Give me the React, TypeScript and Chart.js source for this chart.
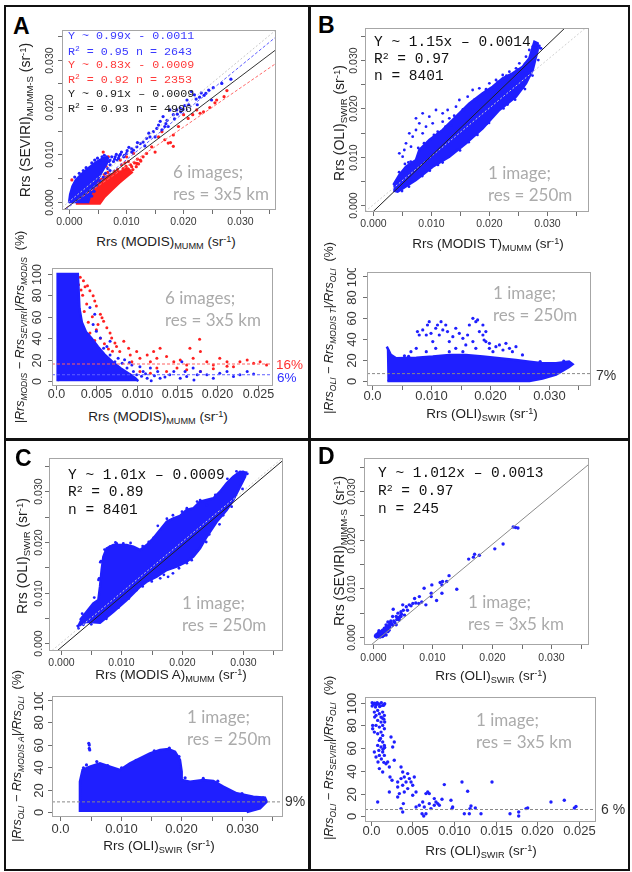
import React, { useEffect, useRef } from 'react';
import { Chart, registerables } from 'chart.js';

Chart.register(...registerables);

type Pair = [number, number];

const SANS = '"Liberation Sans", Arial, sans-serif';
const MONO = '"Liberation Mono", "DejaVu Sans Mono", monospace';
const SOFT = 'Lato, "Open Sans", sans-serif';
const BLUE = '#1f1fff';
const RED = '#ff2020';

// ---------- tick values and labels ----------
const rrsTicks = [0, 0.005, 0.01, 0.015, 0.02, 0.025, 0.03, 0.035];
const rrsLabels = ['0.000', '', '0.010', '', '0.020', '', '0.030', ''];
const oliTickLabels = ['0.0', '', '0.010', '', '0.020', '', '0.030', ''];
const fineTicks = [0, 0.005, 0.01, 0.015, 0.02, 0.025];
const fineLabels = ['0.0', '0.005', '0.010', '0.015', '0.020', '0.025'];
const pctTicks = [0, 20, 40, 60, 80, 100];
const pctLabels = ['0', '20', '40', '60', '80', '100'];

// ---------- panel A: SEVIRI vs MODIS (6 images) ----------
const aFitBlue: Pair = [0.99, -0.0011];
const aFitRed: Pair = [0.83, -0.0009];
const aFitAll: Pair = [0.91, -0.0009];
const aR2 = [0.95, 0.92, 0.93];
const aN = [2643, 2353, 4996];
const aErrMeans = [16, 6]; // red, blue

const aBlueCore: Pair[] = [
  [0.0, -0.0003], [0.0002, 0.0015], [0.0006, 0.0032], [0.0012, 0.0046], [0.0022, 0.0058], [0.0035, 0.0072],
  [0.0048, 0.0084], [0.006, 0.0092], [0.0068, 0.0092], [0.0066, 0.008], [0.0058, 0.0064], [0.005, 0.0046],
  [0.0043, 0.003], [0.0037, 0.0014], [0.0033, -0.0003],
];
const aRedCore: Pair[] = [
  [0.0012, -0.0004], [0.0054, -0.0004], [0.0062, 0.001], [0.0075, 0.0025], [0.0088, 0.004], [0.01, 0.0052],
  [0.011, 0.0062], [0.0104, 0.007], [0.009, 0.0064], [0.0075, 0.0058], [0.006, 0.005], [0.0045, 0.004],
  [0.003, 0.003], [0.0018, 0.002],
];
const aBluePts: Pair[] = [
  [0.0215, 0.0233], [0.022, 0.0226], [0.0223, 0.0217], [0.0229, 0.0221], [0.0237, 0.0225], [0.024, 0.0229],
  [0.0245, 0.0236], [0.0253, 0.0241], [0.0268, 0.025], [0.0284, 0.0259], [0.0207, 0.0215], [0.0203, 0.0203],
  [0.0195, 0.0198], [0.0189, 0.0194], [0.0183, 0.0184], [0.0177, 0.0194], [0.0174, 0.0159], [0.0168, 0.0159],
  [0.0163, 0.0152], [0.0157, 0.0162], [0.0154, 0.0155], [0.0151, 0.0137], [0.0142, 0.0137], [0.0136, 0.0134],
  [0.013, 0.0126], [0.0125, 0.0123], [0.0119, 0.0116], [0.0113, 0.0109], [0.011, 0.0105], [0.0101, 0.0102],
  [0.0096, 0.0095], [0.0087, 0.0092], [0.0081, 0.0095], [0.0072, 0.0088], [0.0066, 0.0095], [0.006, 0.0088],
  [0.0055, 0.0081], [0.016, 0.017], [0.0165, 0.018], [0.017, 0.0165], [0.0185, 0.0175], [0.019, 0.0185],
  [0.0196, 0.019], [0.02, 0.0195], [0.021, 0.0205], [0.0225, 0.0205], [0.0232, 0.023], [0.025, 0.0215],
  [0.0172, 0.0172], [0.0148, 0.0148], [0.014, 0.0145], [0.0133, 0.0118], [0.012, 0.0125], [0.0105, 0.0115],
  [0.009, 0.01], [0.0078, 0.0085], [0.011, 0.0112], [0.007, 0.0085], [0.0075, 0.0095], [0.008, 0.009],
  [0.0083, 0.01], [0.0088, 0.0097], [0.0092, 0.0105], [0.0072, 0.0078], [0.0085, 0.0088], [0.0062, 0.0098],
  [0.0058, 0.0095], [0.005, 0.0092], [0.0045, 0.0088], [0.004, 0.0082], [0.003, 0.0072], [0.0025, 0.0066],
  [0.0018, 0.006], [0.001, 0.0052], [0.0068, 0.007], [0.0072, 0.0066], [0.0064, 0.006], [0.006, 0.0052],
  [0.0054, 0.0044], [0.0048, 0.0034], [0.0044, 0.0022], [0.004, 0.0012], [0.0097, 0.0098], [0.0102, 0.0108],
];
const aRedPts: Pair[] = [
  [0.0277, 0.0235], [0.0272, 0.0222], [0.0259, 0.0215], [0.0256, 0.0209], [0.0247, 0.0199], [0.0236, 0.019],
  [0.023, 0.0187], [0.0224, 0.0194], [0.0217, 0.0184], [0.0209, 0.0176], [0.0201, 0.0184], [0.0192, 0.0159],
  [0.0183, 0.0141], [0.0178, 0.0125], [0.0183, 0.0117], [0.0174, 0.0124], [0.0168, 0.0131], [0.0163, 0.0148],
  [0.0157, 0.0137], [0.0151, 0.0105], [0.0145, 0.0116], [0.0136, 0.0102], [0.013, 0.0095], [0.0125, 0.0088],
  [0.0119, 0.0081], [0.011, 0.0074], [0.0101, 0.007], [0.0095, 0.0063], [0.0087, 0.006], [0.0081, 0.0042],
  [0.0075, 0.0056], [0.0069, 0.0095], [0.0066, 0.0091], [0.006, 0.0105], [0.0014, 0.0042], [0.0005, 0.0046],
  [0.0017, 0.0039], [0.0101, 0.0095], [0.009, 0.0088], [0.0113, 0.0102], [0.0112, 0.0068], [0.0118, 0.0074],
  [0.0122, 0.008], [0.0115, 0.0082], [0.0108, 0.0078], [0.01, 0.0075], [0.0095, 0.007], [0.0085, 0.0068],
  [0.008, 0.0064], [0.0068, 0.0062], [0.0062, 0.0058], [0.0104, 0.0085], [0.0098, 0.0082], [0.0092, 0.0078],
  [0.0126, 0.0086], [0.012, 0.009], [0.002, 0.0045], [0.0028, 0.005], [0.001, 0.0035], [0.0008, 0.0028],
  [0.0035, 0.0055], [0.0047, 0.0062], [0.0055, 0.0068], [0.0065, 0.0075],
];

const aErrBlueCore: Pair[] = [
  [0.0002, 0], [0.0002, 100], [0.0027, 100], [0.0028, 85], [0.0029, 68], [0.0032, 55], [0.0037, 46],
  [0.0044, 40], [0.0052, 32], [0.006, 25], [0.007, 18], [0.008, 12], [0.009, 7], [0.0098, 3], [0.0102, 0],
];
const aErrBluePts: Pair[] = [
  [0.0067, 24.5], [0.0073, 18.2], [0.0077, 21.4], [0.0082, 16.7], [0.0088, 12.3], [0.0094, 15.1], [0.0096, 9.1],
  [0.01, 6.0], [0.0104, 13.5], [0.0108, 9.1], [0.0113, 2.8], [0.0117, 12.3], [0.0129, 2.8], [0.0141, 6.0],
  [0.0146, 9.1], [0.0154, 2.8], [0.0156, 18.2], [0.016, 9.1], [0.0162, 4.4], [0.017, 12.3], [0.0175, 6.0],
  [0.0179, 9.1], [0.0187, 6.0], [0.0195, 2.8], [0.0203, 7.5], [0.0212, 9.1], [0.022, 4.4], [0.0228, 6.0],
  [0.0237, 9.1], [0.0245, 6.6], [0.0067, 37.1], [0.0059, 30.8], [0.0055, 40.3], [0.0063, 32.4], [0.005, 46.6],
  [0.0046, 52.8], [0.0048, 62.3], [0.0042, 68.6], [0.004, 43.4], [0.0044, 30.8], [0.0055, 18.2], [0.0059, 12.3],
  [0.0063, 7.5], [0.0092, 1.5], [0.0118, 0.5], [0.0135, 4.0], [0.0171, 1.0], [0.0106, 4.5], [0.0111, 7.0],
  [0.0122, 5.0], [0.0126, 9.0], [0.0085, 20.0], [0.0091, 17.5],
];
const aErrRedPts: Pair[] = [
  [0.0026, 98.4], [0.003, 96.9], [0.0034, 93.7], [0.0039, 89.0], [0.0042, 84.3], [0.0046, 79.6], [0.0048, 74.8],
  [0.005, 70.1], [0.0055, 62.3], [0.0057, 59.1], [0.0052, 52.8], [0.0059, 55.9], [0.0063, 49.7], [0.0067, 45.0],
  [0.0069, 40.3], [0.0073, 35.6], [0.0075, 32.4], [0.0079, 27.7], [0.0084, 37.1], [0.009, 30.8], [0.0092, 24.5],
  [0.0094, 18.2], [0.01, 27.7], [0.0104, 21.4], [0.0113, 24.5], [0.0117, 18.2], [0.0121, 27.7], [0.0125, 21.4],
  [0.0129, 30.8], [0.0137, 22.9], [0.0146, 18.2], [0.0154, 19.8], [0.0162, 15.1], [0.0166, 30.8], [0.017, 21.4],
  [0.0179, 27.7], [0.0187, 18.2], [0.0195, 15.1], [0.0203, 21.4], [0.0212, 18.2], [0.022, 13.5], [0.0228, 18.2],
  [0.0237, 19.8], [0.0245, 16.7], [0.0253, 18.2], [0.0261, 15.1], [0.0178, 39.0], [0.007, 17.1], [0.0075, 12.3],
  [0.0084, 9.1], [0.0092, 6.0], [0.0104, 9.1], [0.0117, 7.5], [0.0125, 12.3], [0.0137, 9.1], [0.015, 12.3],
  [0.0162, 10.7], [0.0179, 9.1], [0.0195, 11.6], [0.0212, 13.8], [0.0035, 65], [0.004, 55], [0.0045, 60],
  [0.005, 48], [0.0038, 72], [0.0042, 45], [0.0055, 40], [0.006, 35], [0.0048, 38], [0.0065, 30], [0.007, 28],
  [0.0058, 25], [0.0033, 80], [0.0036, 88], [0.0028, 90], [0.0031, 85],
];

// ---------- panel B: OLI vs MODIS Terra ----------
const bFit: Pair = [1.15, -0.0014];
const bR2 = 0.97;
const bN = 8401;
const bErrMean = 7;

const bCore: Pair[] = [
  [0.00351, 0.003], [0.00425, 0.00276], [0.00741, 0.00518], [0.01029, 0.00794], [0.01316, 0.01001],
  [0.01603, 0.01277], [0.01891, 0.01588], [0.02178, 0.01967], [0.02466, 0.02243], [0.02638, 0.02519],
  [0.02753, 0.02795], [0.02839, 0.03209], [0.02839, 0.03347], [0.02782, 0.03381], [0.02695, 0.03037],
  [0.0258, 0.02864], [0.02408, 0.02726], [0.02236, 0.02623], [0.02063, 0.0245], [0.01891, 0.02312],
  [0.01661, 0.02105], [0.01431, 0.01829], [0.01201, 0.01553], [0.00971, 0.01346], [0.00799, 0.01139],
  [0.00741, 0.00932], [0.00569, 0.00794], [0.00454, 0.00621], [0.00351, 0.00414],
];
const bPts: Pair[] = [
  [0.00741, 0.01794], [0.00856, 0.01898], [0.00971, 0.01829], [0.00914, 0.01622], [0.01086, 0.01967],
  [0.01201, 0.01898], [0.01287, 0.01967], [0.01316, 0.01794], [0.01431, 0.02036], [0.01489, 0.02174],
  [0.01575, 0.01967], [0.01632, 0.02243], [0.01718, 0.02381], [0.01833, 0.02415], [0.01891, 0.02277],
  [0.00626, 0.01484], [0.00684, 0.01415], [0.00454, 0.0107], [0.00511, 0.01001], [0.0054, 0.01139],
  [0.00741, 0.01553], [0.00799, 0.01691], [0.00856, 0.01484], [0.01029, 0.01691], [0.01115, 0.01518],
  [0.01201, 0.01726], [0.00569, 0.01277], [0.00655, 0.01208], [0.01776, 0.02174], [0.01948, 0.02381],
  [0.02006, 0.02519], [0.02121, 0.02588], [0.02236, 0.02692], [0.02351, 0.0276], [0.02466, 0.0283],
  [0.02523, 0.02933], [0.02638, 0.03071], [0.02695, 0.03209], [0.02753, 0.03278], [0.0281, 0.03313],
  [0.02868, 0.03292], [0.02897, 0.03244], [0.0061, 0.0088], [0.0095, 0.0121], [0.0135, 0.0165],
  [0.0172, 0.0198], [0.0205, 0.0225], [0.0068, 0.0049], [0.0112, 0.0083], [0.015, 0.0113],
  [0.0196, 0.0168], [0.0232, 0.0208], [0.0259, 0.0243],
  [0.0045, 0.0068], [0.0055, 0.0085], [0.0065, 0.009], [0.0078, 0.0118], [0.0088, 0.0128], [0.0105, 0.0145],
  [0.0125, 0.0162], [0.014, 0.0185], [0.0155, 0.0198], [0.0175, 0.0218], [0.0195, 0.024], [0.0215, 0.0255],
  [0.023, 0.0268], [0.025, 0.028], [0.0262, 0.0292], [0.005, 0.0029], [0.0062, 0.0038], [0.0085, 0.006],
  [0.0098, 0.0071], [0.012, 0.0088], [0.014, 0.011], [0.0165, 0.013], [0.018, 0.0145], [0.02, 0.017],
  [0.0225, 0.02], [0.0245, 0.0218], [0.0262, 0.024], [0.0275, 0.0268], [0.0285, 0.03], [0.0288, 0.0325],
];
const bErrCore: Pair[] = [
  [0.0025, 32.7], [0.0028, 29.5], [0.0032, 24.8], [0.0041, 21.6], [0.0075, 22.2], [0.0103, 23.2],
  [0.0131, 24.8], [0.0159, 24.8], [0.0188, 23.2], [0.0216, 21.6], [0.0244, 20.0], [0.0267, 18.4],
  [0.0289, 16.8], [0.0312, 16.8], [0.0334, 18.4], [0.034, 15.9], [0.0334, 13.3], [0.0312, 6.0],
  [0.0289, 2.2], [0.0267, 0], [0.0032, 0], [0.0026, 0],
];
const bErrPts: Pair[] = [
  [0.0075, 31.1], [0.0077, 47.0], [0.008, 43.8], [0.0086, 48.6], [0.0092, 43.8], [0.0094, 53.3], [0.0097, 56.5],
  [0.01, 45.4], [0.0103, 37.5], [0.0108, 50.2], [0.0111, 53.3], [0.0114, 43.8], [0.0117, 56.5], [0.012, 48.6],
  [0.0125, 53.3], [0.0128, 47.0], [0.0131, 37.5], [0.0137, 42.2], [0.0142, 50.2], [0.0148, 45.4], [0.0154, 40.6],
  [0.0159, 34.3], [0.0165, 53.3], [0.0171, 59.7], [0.0176, 56.5], [0.0182, 47.0], [0.0188, 43.8], [0.019, 39.0],
  [0.0193, 37.5], [0.0199, 31.1], [0.0205, 27.9], [0.021, 32.7], [0.0216, 34.3], [0.0222, 29.5], [0.0227, 35.9],
  [0.0233, 31.1], [0.0238, 27.9], [0.0244, 32.7], [0.0255, 24.8], [0.0066, 27.9], [0.0092, 27.9], [0.0108, 31.1],
  [0.0142, 31.1], [0.0176, 31.1], [0.0171, 37.5], [0.0162, 43.8], [0.0154, 27.9], [0.0131, 27.9], [0.0199, 35.9],
  [0.0193, 47.0], [0.0188, 53.3], [0.0179, 58.1], [0.0055, 24.0], [0.0062, 23.5], [0.0285, 18.5], [0.0325, 19.0],
];

// ---------- panel C: OLI vs MODIS Aqua ----------
const cFit: Pair = [1.01, -0.0009];
const cR2 = 0.89;
const cN = 8401;
const cErrMean = 9;

const cCore: Pair[] = [
  [0.00259, 0.00323], [0.00424, 0.00422], [0.00645, 0.00402], [0.00865, 0.0062], [0.01085, 0.00851],
  [0.01196, 0.00984], [0.01306, 0.01115], [0.01416, 0.01214], [0.01581, 0.01313], [0.01747, 0.01446],
  [0.01912, 0.01511], [0.02077, 0.0161], [0.02187, 0.01709], [0.02298, 0.01875], [0.02408, 0.02105],
  [0.02573, 0.02402], [0.02738, 0.02634], [0.02848, 0.02832], [0.02959, 0.03095], [0.03041, 0.03293],
  [0.03058, 0.03373], [0.02959, 0.0339], [0.02848, 0.03293], [0.02738, 0.03162], [0.02628, 0.02996],
  [0.02518, 0.02865], [0.02298, 0.02798], [0.02187, 0.02667], [0.02077, 0.02634], [0.01967, 0.02515],
  [0.01857, 0.02469], [0.01747, 0.024], [0.01636, 0.02238], [0.01526, 0.02073], [0.01416, 0.0194],
  [0.01306, 0.01842], [0.01196, 0.01907], [0.01085, 0.01941], [0.00975, 0.01941], [0.00865, 0.01941],
  [0.00755, 0.01875], [0.007, 0.01709], [0.00672, 0.01446], [0.00645, 0.01115], [0.00617, 0.00851],
  [0.00534, 0.00786], [0.00424, 0.0062], [0.00314, 0.00455],
];
const cPts: Pair[] = [
  [0.0216, 0.0164], [0.0208, 0.0158], [0.0185, 0.0138], [0.0177, 0.0131], [0.0164, 0.0128], [0.0301, 0.0339],
  [0.0308, 0.0335], [0.0241, 0.0273], [0.023, 0.0283], [0.0208, 0.0267], [0.0185, 0.0253], [0.0092, 0.0197],
  [0.0103, 0.0197], [0.0081, 0.0191], [0.0029, 0.0029], [0.0037, 0.0036], [0.0111, 0.0092], [0.0125, 0.0105],
  [0.0225, 0.0182], [0.0245, 0.0215], [0.0268, 0.0253], [0.0153, 0.0208], [0.0066, 0.0162], [0.0063, 0.0128],
  [0.005, 0.0037], [0.0075, 0.0048], [0.0095, 0.007], [0.0112, 0.0088], [0.0135, 0.0112], [0.015, 0.0122],
  [0.017, 0.0135], [0.0195, 0.0148], [0.0225, 0.0183], [0.024, 0.02], [0.0262, 0.0235], [0.0282, 0.027],
  [0.03, 0.0305], [0.0035, 0.0058], [0.0055, 0.009], [0.0062, 0.0125], [0.0065, 0.016], [0.0072, 0.0185],
  [0.009, 0.0199], [0.0115, 0.0198], [0.0135, 0.0192], [0.0145, 0.02], [0.016, 0.0232], [0.0175, 0.0246],
  [0.02, 0.026], [0.0225, 0.028], [0.0255, 0.0293], [0.0275, 0.0325], [0.029, 0.034],
];
const cErrCore: Pair[] = [
  [0.00322, 0], [0.00322, 27.1], [0.00366, 37.5], [0.00488, 40.5], [0.00653, 43.5], [0.00818, 40.5],
  [0.00983, 37.5], [0.01149, 43.5], [0.01314, 47.9], [0.01479, 52.4], [0.01645, 55.4], [0.01782, 56.3],
  [0.01893, 53.9], [0.01975, 46.4], [0.02003, 36.0], [0.02003, 28.6], [0.0214, 27.1], [0.0236, 28.6],
  [0.02526, 27.7], [0.02691, 22.6], [0.02912, 16.7], [0.03187, 13.7], [0.0338, 12.8], [0.03408, 9.2],
  [0.03298, 3.3], [0.03078, 0],
];
const cErrPts: Pair[] = [
  [0.00476, 59.8], [0.00476, 56.8], [0.00468, 61.3], [0.00484, 55.4], [0.0078, 41.5], [0.006, 45.0],
  [0.0101, 39.5], [0.018, 57.0], [0.0196, 49.5], [0.0206, 30.5], [0.0236, 30.0], [0.026, 27.5],
  [0.03, 16.5], [0.0335, 12.5], [0.0038, 39.5], [0.0043, 42.0], [0.0125, 46.0], [0.0155, 54.5],
];

// ---------- panel D: SEVIRI vs OLI ----------
const dFit: Pair = [1.012, -0.0013];
const dR2 = 0.97;
const dN = 245;
const dErrMean = 6;

const dPts: Pair[] = [
  [0.0236, 0.0226], [0.0244, 0.0224], [0.024, 0.0225], [0.0219, 0.0191], [0.0205, 0.0181], [0.0179, 0.0168],
  [0.0171, 0.017], [0.0169, 0.0164], [0.0161, 0.016], [0.0128, 0.0126], [0.0124, 0.0114], [0.0117, 0.0114],
  [0.0113, 0.0112], [0.0116, 0.0107], [0.0141, 0.0098], [0.0099, 0.0107], [0.0098, 0.009], [0.0086, 0.01],
  [0.0116, 0.009], [0.0107, 0.0075], [0.0098, 0.0083], [0.0089, 0.0066], [0.0082, 0.0072], [0.0077, 0.0069],
  [0.007, 0.0079], [0.0067, 0.0069], [0.0064, 0.0064], [0.0061, 0.0066], [0.0056, 0.0062], [0.0051, 0.0055],
  [0.0047, 0.0052], [0.0042, 0.0049], [0.0039, 0.0042], [0.0033, 0.0042], [0.0034, 0.0057], [0.0025, 0.0031],
  [0.003, 0.0028], [0.0022, 0.0025], [0.0019, 0.0018], [0.0016, 0.0014], [0.0013, 0.0008], [0.0011, 0.0004],
  [0.0008, 0.0001], [0.0005, 0.0001], [0.0016, 0.0001], [0.0022, 0.0004], [0.0027, 0.0014], [0.0025, 0.0011],
  [0.0039, 0.0025], [0.0044, 0.0035], [0.0053, 0.0045], [0.0047, 0.0042], [0.0036, 0.0031], [0.0027, 0.0021],
  [0.005, 0.0066], [0.0058, 0.0055], [0.0072, 0.007], [0.0078, 0.0083], [0.0004, 0.0002], [0.0006, 0.0],
  [0.0008, 0.0003], [0.001, 0.0001], [0.0012, 0.0004], [0.0014, 0.0002], [0.0016, 0.0006], [0.0018, 0.0003],
  [0.002, 0.0008], [0.0007, 0.0006], [0.0009, 0.0009], [0.0011, 0.0007], [0.0013, 0.0011], [0.0015, 0.0009],
  [0.0017, 0.0013], [0.0019, 0.0011], [0.0021, 0.0016], [0.0023, 0.0013], [0.0005, 0.0004], [0.001, 0.0013],
  [0.0012, 0.0], [0.0022, 0.002], [0.0024, 0.0018], [0.0026, 0.0023], [0.0028, 0.002], [0.0029, 0.0026],
  [0.0031, 0.0028], [0.0033, 0.0024], [0.0035, 0.0033], [0.0037, 0.0029], [0.004, 0.0036], [0.0042, 0.004],
  [0.0044, 0.0038], [0.0046, 0.0043], [0.0048, 0.0047], [0.003, 0.0033], [0.0027, 0.003],
];
const dErrPts: Pair[] = [
  [0.0002, 100], [0.0003, 99.1], [0.0007, 98.2], [0.001, 98.8], [0.0013, 100], [0.0015, 97.6], [0.0017, 99.1],
  [0.0002, 97.0], [0.0006, 96.1], [0.0011, 96.7], [0.0004, 98.5], [0.0008, 100], [0.0016, 98.0], [0.0012, 97.2],
  [0.0005, 99.5], [0.00046, 91.7], [0.00066, 88.8], [0.00086, 93.2], [0.00106, 90.3], [0.00126, 87.3],
  [0.00146, 91.7], [0.00166, 88.8], [0.00086, 84.4], [0.00126, 82.9], [0.00146, 80.0], [0.00106, 78.5],
  [0.00066, 80.0], [0.00166, 77.1], [0.00126, 74.1], [0.00146, 71.2], [0.00086, 72.7], [0.00106, 66.8],
  [0.00146, 65.4], [0.00166, 62.4], [0.00126, 61.0], [0.00086, 62.4], [0.00146, 56.6], [0.00166, 53.6],
  [0.00106, 53.6], [0.00046, 56.6], [0.00066, 52.2], [0.00026, 80.0], [0.0005, 87.3], [0.00026, 77.1],
  [0.00046, 74.1], [0.0016, 85.5], [0.0014, 86.5], [0.0017, 83.0], [0.0012, 68.5], [0.0015, 59.0], [0.001, 58.0],
  [0.0017, 60.5], [0.0013, 50.5], [0.0009, 47.8], [0.0016, 47.5], [0.00086, 12.6], [0.00106, 42.0],
  [0.00146, 39.0], [0.00186, 46.3], [0.00206, 47.8], [0.00226, 43.4], [0.00246, 69.8], [0.00285, 65.4],
  [0.00266, 61.0], [0.00234, 34.6], [0.00258, 31.7], [0.00226, 21.4], [0.00326, 30.2], [0.00326, 25.8],
  [0.00285, 49.3], [0.00366, 43.4], [0.00386, 39.0], [0.00405, 34.6], [0.00366, 33.2], [0.00386, 27.3],
  [0.00405, 21.4], [0.00346, 20.0], [0.00326, 17.0], [0.00394, 11.2], [0.00366, 6.8], [0.00386, 3.8],
  [0.00446, 37.6], [0.00466, 33.2], [0.00426, 30.2], [0.00486, 30.2], [0.00446, 24.4], [0.00506, 27.3],
  [0.00525, 34.6], [0.00506, 18.5], [0.00546, 21.4], [0.00585, 9.7], [0.00546, 8.2], [0.00665, 20.0],
  [0.00626, 12.6], [0.00645, 8.2], [0.00618, 2.3], [0.00638, 0.3], [0.00665, 2.3], [0.00705, 11.2],
  [0.00725, 6.8], [0.00686, 21.4], [0.00705, 20.0], [0.00765, 15.6], [0.00785, 12.6], [0.00806, 11.2],
  [0.00765, 9.7], [0.00825, 9.7], [0.00857, 15.0], [0.00885, 27.9], [0.00965, 14.1], [0.00977, 6.8],
  [0.00985, 8.2], [0.01097, 30.2], [0.01165, 22.0], [0.01125, 2.3], [0.01185, 2.3], [0.01193, 6.8],
  [0.01205, 9.1], [0.01257, 7.3], [0.01325, 2.3], [0.01457, 30.2], [0.01673, 2.3], [0.01777, 3.8],
  [0.01777, 0.3], [0.01865, 6.8], [0.01885, 7.3], [0.02164, 12.6], [0.02324, 14.1], [0.02444, 7.3],
  [0.02464, 8.6],
];

// ---------- dataset helpers ----------
const toXY = (a: Pair[]) => a.map(([x, y]) => ({ x, y }));

const dots = (a: Pair[], color: string, r: number, order: number) => ({
  type: 'scatter', data: toXY(a), showLine: false, pointRadius: r, pointBackgroundColor: color,
  pointBorderWidth: 0, order,
});
const cloud = (a: Pair[], color: string, order: number) => ({
  type: 'line', data: toXY(a), fill: 'shape', backgroundColor: color, borderColor: color, borderWidth: 2.5,
  pointRadius: 0, tension: 0, order,
});
const fitLine = (f: Pair, xr: Pair, color: string, width: number, dash: number[], order: number) => ({
  type: 'line', data: [{ x: xr[0], y: f[0] * xr[0] + f[1] }, { x: xr[1], y: f[0] * xr[1] + f[1] }],
  borderColor: color, borderWidth: width, borderDash: dash, pointRadius: 0, fill: false, order,
});
const level = (v: number, xr: Pair, color: string, order: number) => ({
  type: 'line', data: [{ x: xr[0], y: v }, { x: xr[1], y: v }], borderColor: color, borderWidth: 1,
  borderDash: [3, 2], pointRadius: 0, fill: false, order,
});

// ---------- one R-style plot on its own canvas ----------
type PlotProps = {
  box: [number, number, number, number];
  xr: Pair; yr: Pair;
  xt: number[]; xl: string[];
  yt: number[]; yl: string[];
  font: number; xdy: number; ydx: number;
  datasets: any[];
};
const PL = 30, PT = 4, PR = 4, PB = 22;

function axesPlugin(p: PlotProps) {
  return {
    id: 'rAxes',
    afterDatasetsDraw(chart: any) {
      const { ctx, chartArea: a } = chart;
      const xs = chart.scales.x, ys = chart.scales.y;
      ctx.save();
      ctx.lineWidth = 1;
      ctx.strokeStyle = '#a6a6a6';
      ctx.strokeRect(a.left + 0.5, a.top + 0.5, a.right - a.left - 1, a.bottom - a.top - 1);
      ctx.strokeStyle = '#6e6e6e';
      ctx.fillStyle = '#383838';
      ctx.font = `${p.font}px ${SANS}`;
      ctx.textAlign = 'center';
      ctx.textBaseline = 'middle';
      p.xt.forEach((v, i) => {
        const x = Math.round(xs.getPixelForValue(v)) + 0.5;
        ctx.beginPath(); ctx.moveTo(x, a.bottom); ctx.lineTo(x, a.bottom + 4); ctx.stroke();
        if (p.xl[i]) ctx.fillText(p.xl[i], x, a.bottom + p.xdy);
      });
      p.yt.forEach((v, i) => {
        const y = Math.round(ys.getPixelForValue(v)) + 0.5;
        ctx.beginPath(); ctx.moveTo(a.left, y); ctx.lineTo(a.left - 4, y); ctx.stroke();
        if (p.yl[i]) {
          ctx.save(); ctx.translate(a.left - p.ydx, y); ctx.rotate(-Math.PI / 2);
          ctx.fillText(p.yl[i], 0, 0); ctx.restore();
        }
      });
      ctx.restore();
    },
  };
}

function Plot(p: PlotProps) {
  const ref = useRef<HTMLCanvasElement>(null);
  const [l, t, w, h] = p.box;
  const W = w + PL + PR, H = h + PT + PB;
  useEffect(() => {
    const chart = new Chart(ref.current as HTMLCanvasElement, {
      type: 'scatter',
      data: { datasets: p.datasets },
      options: {
        animation: false, responsive: false, events: [],
        layout: { autoPadding: false, padding: { left: PL, top: PT, right: PR, bottom: PB } },
        plugins: { legend: { display: false }, tooltip: { enabled: false } },
        scales: {
          x: { type: 'linear', min: p.xr[0], max: p.xr[1], display: false },
          y: { type: 'linear', min: p.yr[0], max: p.yr[1], display: false },
        },
      },
      plugins: [axesPlugin(p)],
    } as any);
    return () => chart.destroy();
  }, []);
  return (
    <canvas ref={ref} width={W} height={H}
      style={{ position: 'absolute', left: l - PL, top: t - PT, width: W, height: H }} />
  );
}

// ---------- text helpers ----------
const Sub = ({ c }: { c: string }) => <span style={{ fontSize: '0.68em', verticalAlign: '-0.3em' }}>{c}</span>;
const Sup = ({ c }: { c: string }) => <span style={{ fontSize: '0.68em', verticalAlign: '0.45em' }}>{c}</span>;

function Txt(props: any) {
  const { x, y, size, color = '#222', rot = false, left = false, family = SANS, italic = false, weight = 400, children } = props;
  const tf = rot ? 'translate(-50%,-50%) rotate(-90deg)' : left ? 'translateY(-50%)' : 'translate(-50%,-50%)';
  return (
    <div style={{
      position: 'absolute', left: x, top: y, transform: tf, fontSize: size, color, fontFamily: family,
      lineHeight: 1, whiteSpace: 'nowrap', fontStyle: italic ? 'italic' : 'normal', fontWeight: weight,
    }}>{children}</div>
  );
}

const fitText = (f: Pair, dash: string) => `Y ~ ${f[0]}x ${dash} ${(-f[1]).toFixed(4)}`;

function RrsTitle({ name, sub }: { name: string; sub: string }) {
  return <>Rrs ({name})<Sub c={sub} /> (sr<Sup c="-1" />)</>;
}
function ErrTitle({ a, b }: { a: string; b: string }) {
  return (
    <><i>|Rrs<Sub c={a} /> − Rrs<Sub c={b} />|/Rrs<Sub c={a} /></i>&nbsp; (%)</>
  );
}
function Soft({ x, y, lines }: { x: number; y: number; lines: string[] }) {
  return (
    <>
      <Txt x={x} y={y} left size={17} color="#ababab" family={SOFT}>{lines[0]}</Txt>
      <Txt x={x} y={y + 22} left size={17} color="#ababab" family={SOFT}>{lines[1]}</Txt>
    </>
  );
}

// ---------- axis ranges ----------
const aXr: Pair = [-0.00123, 0.03631], aYr: Pair = [-0.00175, 0.0363];
const aeXr: Pair = [-0.0005, 0.0269], aeYr: Pair = [-4.5, 105.5];
const bXr: Pair = [-0.00138, 0.03724], bYr: Pair = [-0.00145, 0.03665];
const beXr: Pair = [-0.00085, 0.03712], beYr: Pair = [-4.8, 103.8];
const cXr: Pair = [-0.00198, 0.03669], cYr: Pair = [-0.00158, 0.03663];
const ceXr: Pair = [-0.0014, 0.03678], ceYr: Pair = [-4.5, 103.6];
const dXr: Pair = [-0.00152, 0.03636], dYr: Pair = [-0.00164, 0.03676];
const deXr: Pair = [-0.00066, 0.02704], deYr: Pair = [-5, 105];

const ONE: Pair = [1, 0];

export default function App() {
  useEffect(() => { document.body.style.margin = '0'; }, []);
  const lbl = { fontFamily: SANS, fontWeight: 700, fontSize: 23, position: 'absolute' as const, lineHeight: 1, color: '#000' };
  return (
    <div style={{ position: 'absolute', left: 0, top: 0, width: 632, height: 872, background: '#fff', overflow: 'hidden', fontFamily: SANS }}>
      {/* panel frames */}
      <div style={{ position: 'absolute', left: 4, top: 5, width: 626, height: 866, border: '2.5px solid #111', boxSizing: 'border-box' }} />
      <div style={{ position: 'absolute', left: 308, top: 5, width: 2.5, height: 866, background: '#111' }} />
      <div style={{ position: 'absolute', left: 4, top: 438, width: 626, height: 2.5, background: '#111' }} />

      {/* ---------- A ---------- */}
      <Plot box={[62, 30, 214, 180]} xr={aXr} yr={aYr} xt={rrsTicks} xl={rrsLabels} yt={rrsTicks} yl={rrsLabels}
        font={10.5} xdy={12} ydx={12}
        datasets={[
          fitLine(ONE, aXr, '#c8c8c8', 1, [2, 2], 0),
          fitLine(aFitBlue, aXr, '#5c5cff', 1, [3, 2], 0),
          fitLine(aFitAll, aXr, '#333', 1, [], 0),
          fitLine(aFitRed, aXr, '#ff6a6a', 1, [3, 2], 0),
          dots(aBluePts, BLUE, 1.6, 1),
          cloud(aBlueCore, BLUE, 2),
          dots(aRedPts, RED, 1.6, 3),
          cloud(aRedCore, RED, 4),
        ]} />
      <Plot box={[52, 268, 221, 118]} xr={aeXr} yr={aeYr} xt={fineTicks} xl={fineLabels} yt={pctTicks} yl={pctLabels}
        font={12.5} xdy={9} ydx={14}
        datasets={[
          level(aErrMeans[0], aeXr, '#ff6060', 0),
          level(aErrMeans[1], aeXr, '#6060ff', 0),
          dots(aErrBluePts, BLUE, 1.5, 1),
          cloud(aErrBlueCore, BLUE, 2),
          dots(aErrRedPts, RED, 1.5, 3),
        ]} />
      <div style={{ ...lbl, left: 13, top: 15 }}>A</div>
      <Txt x={26} y={120} rot size={14}><RrsTitle name="SEVIRI" sub="MUMM-S" /></Txt>
      <Txt x={166} y={243} size={13.5}><RrsTitle name="MODIS" sub="MUMM" /></Txt>
      <Txt x={21} y={327} rot size={12.5}><ErrTitle a="MODIS" b="SEVIRI" /></Txt>
      <Txt x={158} y={418} size={13.5}><RrsTitle name="MODIS" sub="MUMM" /></Txt>
      <Txt x={68} y={37} left size={11.7} family={MONO} color="#3a3aff">{fitText(aFitBlue, '-')}</Txt>
      <Txt x={68} y={51.5} left size={11.7} family={MONO} color="#3a3aff">R<Sup c="2" /> = {aR2[0]} n = {aN[0]}</Txt>
      <Txt x={68} y={66} left size={11.7} family={MONO} color="#ff3a3a">{fitText(aFitRed, '-')}</Txt>
      <Txt x={68} y={80} left size={11.7} family={MONO} color="#ff3a3a">R<Sup c="2" /> = {aR2[1]} n = {aN[1]}</Txt>
      <Txt x={68} y={94.5} left size={11.7} family={MONO} color="#222">{fitText(aFitAll, '–')}</Txt>
      <Txt x={68} y={109} left size={11.7} family={MONO} color="#222">R<Sup c="2" /> = {aR2[2]} n = {aN[2]}</Txt>
      <Soft x={173} y={171} lines={['6 images;', 'res = 3x5 km']} />
      <Soft x={165} y={297} lines={['6 images;', 'res = 3x5 km']} />
      <Txt x={276} y={365} left size={13.5} color="#ff3030">{aErrMeans[0]}%</Txt>
      <Txt x={277} y={378} left size={13.5} color="#3030ff">{aErrMeans[1]}%</Txt>

      {/* ---------- B ---------- */}
      <Plot box={[365, 28, 224, 184]} xr={bXr} yr={bYr} xt={rrsTicks} xl={rrsLabels} yt={rrsTicks} yl={rrsLabels}
        font={10.5} xdy={12} ydx={11}
        datasets={[
          fitLine(bFit, bXr, '#222', 1, [], 0),
          fitLine(ONE, bXr, '#d0d0d0', 1, [2, 2], 0),
          dots(bPts, BLUE, 1.4, 1),
          cloud(bCore, BLUE, 2),
        ]} />
      <Plot box={[367, 272, 224, 114]} xr={beXr} yr={beYr} xt={rrsTicks} xl={oliTickLabels} yt={pctTicks} yl={pctLabels}
        font={13} xdy={10} ydx={15}
        datasets={[
          level(bErrMean, beXr, '#888', 0),
          dots(bErrPts, BLUE, 1.6, 1),
          cloud(bErrCore, BLUE, 2),
        ]} />
      <div style={{ ...lbl, left: 318, top: 14 }}>B</div>
      <Txt x={340} y={123} rot size={14}><RrsTitle name="OLI" sub="SWIR" /></Txt>
      <Txt x={488} y={245} size={13.5}><RrsTitle name="MODIS T" sub="MUMM" /></Txt>
      <Txt x={330} y={328} rot size={12.5}><ErrTitle a="OLI" b="MODIS T" /></Txt>
      <Txt x={482} y={415} size={13.5}><RrsTitle name="OLI" sub="SWIR" /></Txt>
      <Txt x={374} y={42} left size={14.5} family={MONO} color="#111">{fitText(bFit, '–')}</Txt>
      <Txt x={374} y={59} left size={14.5} family={MONO} color="#111">R<Sup c="2" /> = {bR2}</Txt>
      <Txt x={374} y={76} left size={14.5} family={MONO} color="#111">n = {bN}</Txt>
      <Soft x={488} y={172} lines={['1 image;', 'res = 250m']} />
      <Soft x={493} y={292} lines={['1 image;', 'res = 250m']} />
      <Txt x={596} y={375} left size={14} color="#333">{bErrMean}%</Txt>

      {/* ---------- C ---------- */}
      <Plot box={[49, 458, 234, 193]} xr={cXr} yr={cYr} xt={rrsTicks} xl={rrsLabels} yt={rrsTicks} yl={rrsLabels}
        font={10.5} xdy={12} ydx={10}
        datasets={[
          fitLine(cFit, cXr, '#222', 1, [], 0),
          fitLine(ONE, cXr, '#d0d0d0', 1, [2, 2], 0),
          dots(cPts, BLUE, 1.4, 1),
          cloud(cCore, BLUE, 2),
        ]} />
      <Plot box={[52, 696, 231, 121]} xr={ceXr} yr={ceYr} xt={rrsTicks} xl={oliTickLabels} yt={pctTicks} yl={pctLabels}
        font={13} xdy={12} ydx={13}
        datasets={[
          level(cErrMean, ceXr, '#888', 0),
          dots(cErrPts, BLUE, 1.6, 1),
          cloud(cErrCore, BLUE, 2),
        ]} />
      <div style={{ ...lbl, left: 15, top: 447 }}>C</div>
      <Txt x={23} y={556} rot size={14}><RrsTitle name="OLI" sub="SWIR" /></Txt>
      <Txt x={171} y={676} size={13.5}><RrsTitle name="MODIS A" sub="MUMM" /></Txt>
      <Txt x={18} y={756} rot size={12.5}><ErrTitle a="OLI" b="MODIS A" /></Txt>
      <Txt x={159} y={847} size={13.5}><RrsTitle name="OLI" sub="SWIR" /></Txt>
      <Txt x={68} y={475} left size={14.5} family={MONO} color="#111">{fitText(cFit, '–')}</Txt>
      <Txt x={68} y={492} left size={14.5} family={MONO} color="#111">R<Sup c="2" /> = {cR2}</Txt>
      <Txt x={68} y={510} left size={14.5} family={MONO} color="#111">n = {cN}</Txt>
      <Soft x={182} y={602} lines={['1 image;', 'res = 250m']} />
      <Soft x={187} y={716} lines={['1 image;', 'res = 250m']} />
      <Txt x={285} y={801} left size={14} color="#333">{cErrMean}%</Txt>

      {/* ---------- D ---------- */}
      <Plot box={[364, 458, 225, 187]} xr={dXr} yr={dYr} xt={rrsTicks} xl={rrsLabels} yt={rrsTicks} yl={rrsLabels}
        font={10.5} xdy={13} ydx={12}
        datasets={[
          fitLine(dFit, dXr, '#8a8a8a', 1, [], 0),
          dots(dPts, BLUE, 1.7, 1),
        ]} />
      <Plot box={[365, 697, 231, 125]} xr={deXr} yr={deYr} xt={fineTicks} xl={fineLabels} yt={pctTicks} yl={pctLabels}
        font={13} xdy={9} ydx={13}
        datasets={[
          level(dErrMean, deXr, '#888', 0),
          dots(dErrPts, BLUE, 1.7, 1),
        ]} />
      <div style={{ ...lbl, left: 318, top: 445 }}>D</div>
      <Txt x={340} y={551} rot size={14}><RrsTitle name="SEVIRI" sub="MIMM-S" /></Txt>
      <Txt x={491} y={677} size={13.5}><RrsTitle name="OLI" sub="SWIR" /></Txt>
      <Txt x={330} y={758} rot size={12.5}><ErrTitle a="OLI" b="SEVIRI" /></Txt>
      <Txt x={481} y={852} size={13.5}><RrsTitle name="OLI" sub="SWIR" /></Txt>
      <Txt x={378} y={473} left size={14.5} family={MONO} color="#111">{fitText(dFit, '–')}</Txt>
      <Txt x={378} y={491} left size={14.5} family={MONO} color="#111">R<Sup c="2" /> = {dR2}</Txt>
      <Txt x={378} y={509} left size={14.5} family={MONO} color="#111">n = {dN}</Txt>
      <Soft x={468} y={601} lines={['1 image;', 'res = 3x5 km']} />
      <Soft x={476} y={719} lines={['1 image;', 'res = 3x5 km']} />
      <Txt x={601} y={809} left size={14} color="#333">{dErrMean} %</Txt>
    </div>
  );
}
